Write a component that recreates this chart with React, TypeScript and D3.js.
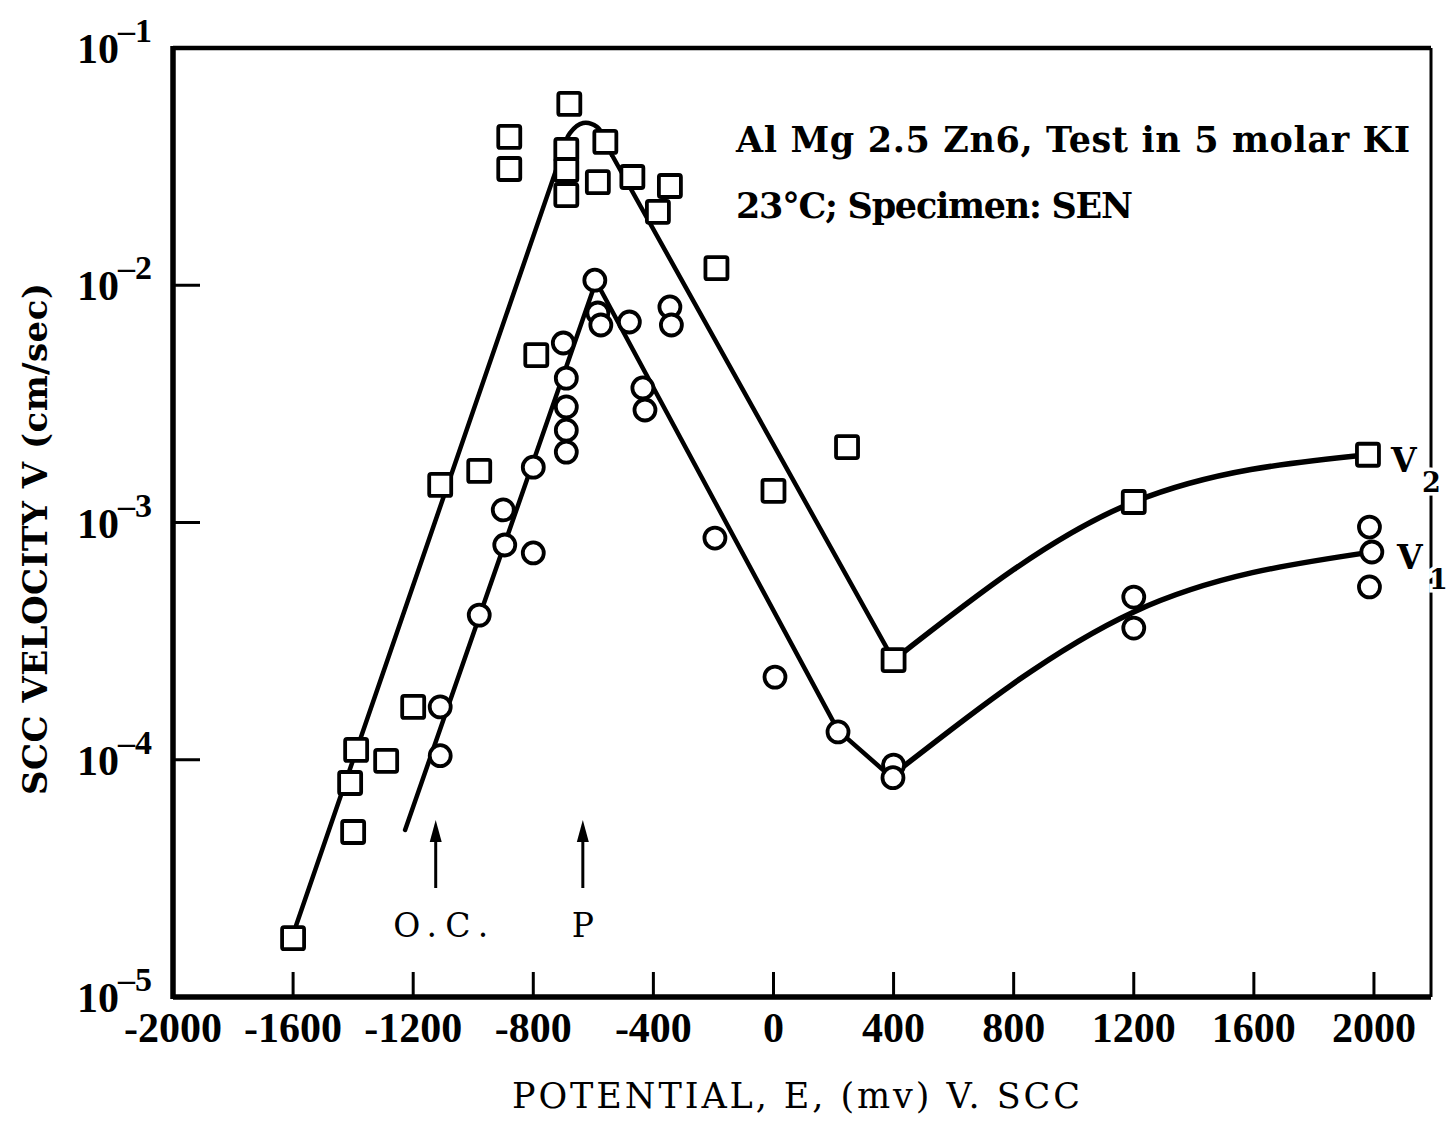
import React from 'react';
import * as d3 from 'd3';

type P = [number, number];

// ---------- data (E in mV, V in cm/sec) ----------
const xTicks = [-2000, -1600, -1200, -800, -400, 0, 400, 800, 1200, 1600, 2000];
const yTickExps = [-1, -2, -3, -4, -5];

// V2 data (squares)
const v2Points: P[] = [
  [-1600, 1.77e-5], [-1390, 1.1e-4], [-1410, 7.98e-5], [-1400, 4.96e-5], [-1290, 9.9e-5],
  [-1200, 1.67e-4], [-1110, 1.44e-3], [-980, 1.65e-3], [-790, 5.08e-3], [-880, 4.22e-2],
  [-880, 3.09e-2], [-680, 5.81e-2], [-690, 3.72e-2], [-690, 3.06e-2], [-690, 2.4e-2],
  [-560, 4.02e-2], [-585, 2.72e-2], [-470, 2.86e-2], [-345, 2.62e-2], [-385, 2.04e-2],
  [-190, 1.18e-2], [0, 1.36e-3], [245, 2.08e-3], [400, 2.63e-4], [1200, 1.22e-3], [1980, 1.93e-3],
];

// V1 data (circles)
const v1Points: P[] = [
  [-1110, 1.04e-4], [-1110, 1.67e-4], [-980, 4.07e-4], [-895, 8.04e-4], [-900, 1.13e-3],
  [-800, 7.44e-4], [-800, 1.71e-3], [-690, 1.98e-3], [-690, 2.45e-3], [-690, 3.07e-3],
  [-690, 4.06e-3], [-700, 5.71e-3], [-595, 1.05e-2], [-585, 7.64e-3], [-575, 6.8e-3],
  [-480, 7.0e-3], [-345, 8.1e-3], [-340, 6.8e-3], [-435, 3.69e-3], [-428, 2.98e-3],
  [-195, 8.6e-4], [5, 2.23e-4], [215, 1.31e-4], [400, 9.5e-5], [398, 8.4e-5],
  [1200, 4.85e-4], [1200, 3.59e-4], [1985, 9.57e-4], [1993, 7.51e-4], [1985, 5.35e-4],
];

// fitted curves
const v2FitRise: P[] = [[-1590, 2.0e-5], [-701, 3.72e-2]];
const v2FitPeak: P[] = [[-701, 3.72e-2], [-678, 4.38e-2], [-634, 4.83e-2], [-588, 4.65e-2], [-558, 4.06e-2], [-538, 3.54e-2]];
const v2FitFall: P[] = [[-538, 3.54e-2], [400, 2.63e-4]];
const v2FitRecover: P[] = [[400, 2.63e-4], [1200, 1.22e-3], [1980, 1.93e-3]];
const v1FitPeak: P[] = [[-1227, 5.06e-5], [-591, 1.04e-2], [215, 1.33e-4], [390, 8.5e-5]];
const v1FitRecover: P[] = [[390, 8.5e-5], [1200, 4.2e-4], [1990, 7.5e-4]];

// arrow markers (potential)
const arrowXs = [-1125, -635];
const arrowLabels = ['O.C.', 'P'];

const seriesLabels = [{ main: 'V', sub: '2' }, { main: 'V', sub: '1' }];

const SERIF = "'Liberation Serif', 'Times New Roman', serif";
const WIDE = "'DejaVu Serif', 'Liberation Serif', serif";

export default function App() {
  const x = d3.scaleLinear().domain([-2000, 2190]).range([173, 1431]);
  const y = d3.scaleLog().domain([1e-5, 1e-1]).range([997, 48]);
  const mk = (curve: d3.CurveFactory) =>
    d3.line<P>().x((d) => x(d[0])).y((d) => y(d[1])).curve(curve);
  const lin = mk(d3.curveLinear);
  const cat = mk(d3.curveCatmullRom.alpha(0.5));
  const mono = mk(d3.curveMonotoneX);

  const left = x(-2000), right = x(2190), top = y(1e-1), bottom = y(1e-5);
  const lineStyle = { fill: 'none', stroke: '#000', strokeWidth: 4.5, strokeLinejoin: 'round' as const, strokeLinecap: 'round' as const };
  const sq = 22;

  const v2Last = v2FitRecover[v2FitRecover.length - 1];
  const v1Last = v1FitRecover[v1FitRecover.length - 1];
  const labelAnchors = [v2Last, v1Last];

  return (
    <svg width={1450} height={1121} style={{ position: 'absolute', left: 0, top: 0, background: '#fff' }} fontFamily={SERIF}>
      <rect x={0} y={0} width={1450} height={1121} fill="#fff" />
      {/* frame */}
      <line x1={left} y1={top} x2={right} y2={top} stroke="#000" strokeWidth={4.5} />
      <line x1={right} y1={top} x2={right} y2={bottom} stroke="#000" strokeWidth={3} />
      <line x1={left} y1={bottom} x2={right} y2={bottom} stroke="#000" strokeWidth={5.5} />
      <line x1={left} y1={top - 2} x2={left} y2={bottom + 2} stroke="#000" strokeWidth={5.5} />

      {/* x ticks */}
      {xTicks.map((t) => (
        <g key={'xt' + t}>
          {t > -2000 && <line x1={x(t)} x2={x(t)} y1={bottom} y2={bottom - 25} stroke="#000" strokeWidth={3} />}
          <text x={x(t)} y={1042} textAnchor="middle" fontSize={42} fontWeight="bold">{t < 0 ? '-' + Math.abs(t) : String(t)}</text>
        </g>
      ))}

      {/* y ticks */}
      {yTickExps.map((e) => {
        const yy = y(Math.pow(10, e));
        return (
          <g key={'yt' + e}>
            {e !== -1 && e !== -5 && <line x1={left} x2={left + 27} y1={yy} y2={yy} stroke="#000" strokeWidth={3} />}
            <text x={119} y={yy + 15} textAnchor="end" fontSize={42} fontWeight="bold">10</text>
            <text x={118} y={yy - 6} fontSize={34} fontWeight="bold">{'\u2013' + Math.abs(e)}</text>
          </g>
        );
      })}

      {/* axis titles */}
      <text x={796} y={1108} textAnchor="middle" fontSize={35} fontFamily={WIDE} textLength={568} lengthAdjust="spacing">POTENTIAL,  E,  (mv) V.  SCC</text>
      <text transform="translate(47,539) rotate(-90)" textAnchor="middle" fontSize={34} fontFamily={WIDE} fontWeight="bold" textLength={512} lengthAdjust="spacing">SCC VELOCITY V (cm/sec)</text>

      {/* annotation */}
      <text x={736} y={152} fontSize={35} fontFamily={WIDE} fontWeight="bold" textLength={674} lengthAdjust="spacing">Al Mg 2.5 Zn6,  Test in 5 molar KI</text>
      <text x={736} y={218} fontSize={35} fontFamily={WIDE} fontWeight="bold" textLength={397} lengthAdjust="spacing">23°C; Specimen: SEN</text>

      {/* fitted lines */}
      <path d={lin(v2FitRise) || ''} {...lineStyle} />
      <path d={cat(v2FitPeak) || ''} {...lineStyle} />
      <path d={lin(v2FitFall) || ''} {...lineStyle} />
      <path d={mono(v2FitRecover) || ''} {...lineStyle} strokeWidth={5.5} />
      <path d={lin(v1FitPeak) || ''} {...lineStyle} />
      <path d={mono(v1FitRecover) || ''} {...lineStyle} strokeWidth={5.5} />

      {/* markers */}
      {v2Points.map((d, i) => (
        <rect key={'s' + i} x={x(d[0]) - sq / 2} y={y(d[1]) - sq / 2} width={sq} height={sq} rx={2}
          fill="#fff" stroke="#000" strokeWidth={3.8} />
      ))}
      {v1Points.map((d, i) => (
        <circle key={'c' + i} cx={x(d[0])} cy={y(d[1])} r={10.5} fill="#fff" stroke="#000" strokeWidth={3.8} />
      ))}

      {/* arrows */}
      {arrowXs.map((ax, i) => {
        const px = x(ax);
        return (
          <g key={'a' + i}>
            <line x1={px} x2={px} y1={888} y2={838} stroke="#000" strokeWidth={3} />
            <path d={`M${px},${820} L${px - 6},${842} L${px + 6},${842} Z`} fill="#000" />
            <text x={px + (i === 0 ? 5 : 0)} y={937} textAnchor="middle" fontSize={33} fontFamily={WIDE}
              textLength={i === 0 ? 95 : undefined} lengthAdjust="spacing">{arrowLabels[i]}</text>
          </g>
        );
      })}

      {/* series labels */}
      {seriesLabels.map((l, i) => {
        const a = labelAnchors[i];
        const px = x(a[0]);
        const py = y(a[1]);
        return (
          <g key={'l' + i} fontWeight="bold" fontFamily={WIDE} stroke="#fff" strokeWidth={7} style={{ paintOrder: 'stroke' }}>
            <text x={px + 23 + (i === 1 ? 3 : 0)} y={py + 17} fontSize={33} fill="#000">{l.main}</text>
            <text x={px + 54 + (i === 1 ? 4 : 0)} y={py + 37} fontSize={27} fill="#000">{l.sub}</text>
          </g>
        );
      })}
    </svg>
  );
}
